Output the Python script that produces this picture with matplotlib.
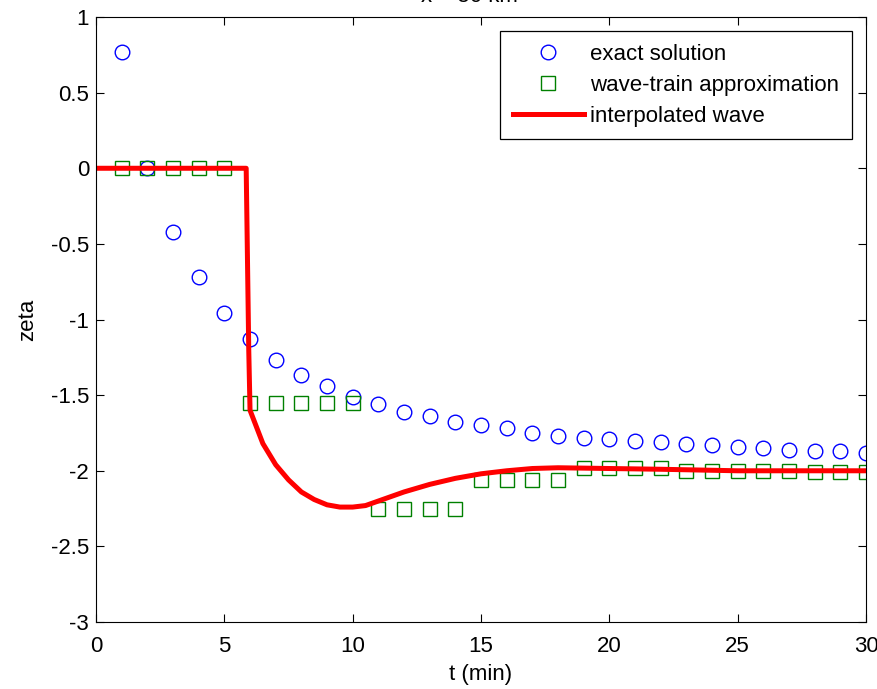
import numpy as np
import matplotlib.pyplot as plt

# exact solution (circles)
t_exact = list(range(1, 31))
zeta_exact = [0.77, 0.0, -0.42, -0.72, -0.96, -1.13, -1.27, -1.37, -1.44, -1.51,
              -1.56, -1.61, -1.64, -1.68, -1.70, -1.72, -1.75, -1.77, -1.78, -1.79,
              -1.80, -1.81, -1.82, -1.83, -1.84, -1.85, -1.86, -1.87, -1.87, -1.88]

# wave-train approximation (squares)
t_train = list(range(1, 31))
zeta_train = [0, 0, 0, 0, 0, -1.55, -1.55, -1.55, -1.55, -1.55,
              -2.25, -2.25, -2.25, -2.25, -2.06, -2.06, -2.06, -2.06, -1.98, -1.98,
              -1.98, -1.98, -2.0, -2.0, -2.0, -2.0, -2.0, -2.01, -2.01, -2.01]

# interpolated wave (red line)
t_wave = [0, 5.85, 5.95, 6.0, 6.5, 7.0, 7.5, 8.0, 8.5, 9.0, 9.5, 10.0, 10.5, 11.0,
          12.0, 13.0, 14.0, 15.0, 16.0, 17.0, 18.0, 20.0, 22.0, 25.0, 30.0]
zeta_wave = [0, 0, -1.2, -1.6, -1.82, -1.96, -2.06, -2.14, -2.19, -2.225, -2.24, -2.24,
             -2.23, -2.2, -2.14, -2.09, -2.05, -2.02, -2.0, -1.985, -1.98, -1.985,
             -1.99, -2.0, -2.0]

plt.rcParams['font.family'] = ['Liberation Sans', 'DejaVu Sans']
fig = plt.figure(figsize=(8.77, 6.89), dpi=100)
ax = fig.add_axes([0.1095, 0.0972, 0.878, 0.8781])

ax.plot(t_exact, zeta_exact, 'o', mfc='none', mec='blue', ms=10.5, mew=1.0,
        label='exact solution')
ax.plot(t_train, zeta_train, 's', mfc='none', mec='green', ms=10.5, mew=1.0,
        label='wave-train approximation')
ax.plot(t_wave, zeta_wave, '-', color='red', lw=3.6, label='interpolated wave')

ax.set_xlim(0, 30)
ax.set_ylim(-3, 1)
ax.set_xticks(np.arange(0, 31, 5))
ax.set_yticks(np.arange(-3, 1.01, 0.5))
ax.set_yticklabels(['-3', '-2.5', '-2', '-1.5', '-1', '-0.5', '0', '0.5', '1'])
ax.tick_params(direction='in', top=True, right=True, labelsize=16, length=5.5)
ax.tick_params(axis='x', pad=10)
ax.tick_params(axis='y', pad=5)
ax.set_xlabel('t (min)', fontsize=16, labelpad=5)
ax.set_ylabel('zeta', fontsize=16, labelpad=9)

leg = ax.legend(loc='upper right', fontsize=16, fancybox=False, edgecolor='black',
                framealpha=1, borderaxespad=0.65, handlelength=3.2,
                handletextpad=0.3, borderpad=0.55, labelspacing=0.45)
leg.get_frame().set_linewidth(0.9)

# title mostly cut off at top of the figure
fig.text(0.535, 1 - 1.5 / 689, 'x = 50 km', ha='center', va='baseline', fontsize=16)

fig.savefig('out.png', dpi=100)
